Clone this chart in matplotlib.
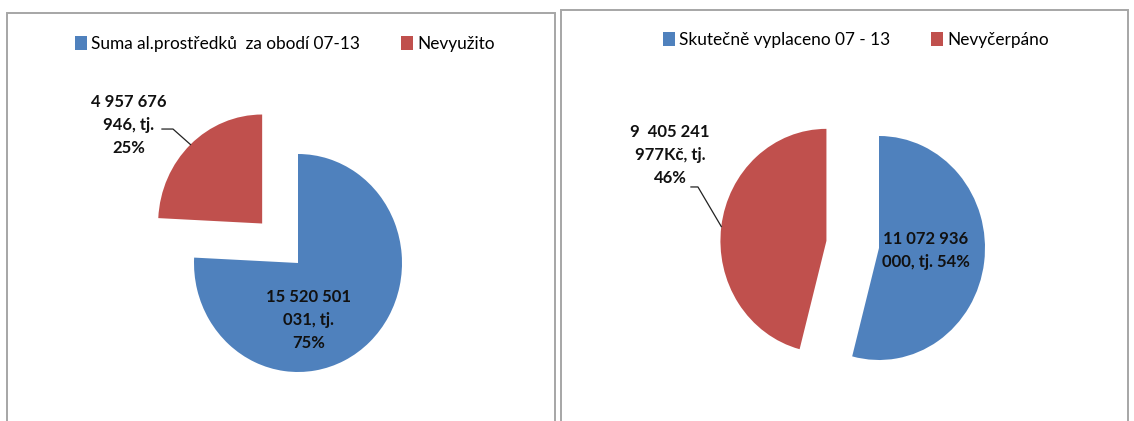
import matplotlib
matplotlib.use('Agg')
import matplotlib.pyplot as plt
import numpy as np
from matplotlib.patches import Rectangle

plt.rcParams['font.family'] = ['Lato', 'DejaVu Sans']

# data
left_labels = ['Suma al.prostředků  za obodí 07-13', 'Nevyužito']
left_values = [15520501031, 4957676946]
left_texts = ['15 520 501\n031, tj.\n75%', '4 957 676\n946, tj.\n25%']

right_labels = ['Skutečně vyplaceno 07 - 13', 'Nevyčerpáno']
right_values = [11072936000, 9405241977]
right_texts = ['11 072 936\n000, tj. 54%', '9  405 241\n977Kč, tj.\n46%']

colors = ['#4F81BD', '#C0504D']

W, H = 1134, 421
fig = plt.figure(figsize=(W / 100, H / 100), dpi=100)
fig.patch.set_facecolor('white')

# chart frames (pixel coords, y from top)
frame_col = '#a6a6a6'
fig.add_artist(Rectangle((7 / W, -0.05), (555 - 7) / W, 1.05 - 13 / H,
                         transform=fig.transFigure, fill=False,
                         edgecolor=frame_col, lw=1.4))
fig.add_artist(Rectangle((561 / W, -0.05), 0.5, 1.05 - 10 / H,
                         transform=fig.transFigure, fill=False,
                         edgecolor=frame_col, lw=1.4))

SPAN = 2.6


def pie_axes(cx, cy, rx, ry):
    ax = fig.add_axes([(cx - SPAN * rx) / W, (H - cy - SPAN * ry) / H,
                       2 * SPAN * rx / W, 2 * SPAN * ry / H])
    return ax


def draw_pie(ax, values):
    wedges, _ = ax.pie(values, colors=colors, startangle=90, counterclock=False,
                       explode=[0, 0.5], radius=1,
                       wedgeprops=dict(linewidth=0))
    ax.set_xlim(-SPAN, SPAN)
    ax.set_ylim(-SPAN, SPAN)
    ax.set_aspect('auto')
    ax.axis('off')
    return wedges


def arc_tip(w):
    mid = np.deg2rad((w.theta1 + w.theta2) / 2)
    return w.center[0] + w.r * np.cos(mid), w.center[1] + w.r * np.sin(mid)


lbl = dict(ha='center', va='center', fontsize=12, fontweight='bold',
           color='#111111', linespacing=1.55)
leg = dict(loc='center', ncol=2, frameon=False, fontsize=12.4, handlelength=0.7,
           handleheight=0.8, handletextpad=0.25, columnspacing=2.4)

# Left chart
axl = pie_axes(298, 263, 104, 109)
wl = draw_pie(axl, left_values)
axl.text(0.105, -0.523, left_texts[0], **lbl)
axl.text(-1.625, 1.266, left_texts[1], **lbl)
tx, ty = arc_tip(wl[1])
axl.plot([-1.308, -1.202, tx], [1.229, 1.229, ty], color='#222222', lw=0.9)

fig.legend(wl, left_labels, bbox_to_anchor=(285 / W, 1 - 44 / H), **leg)

# Right chart
axr = pie_axes(879, 248, 106, 112)
wr = draw_pie(axr, right_values)
axr.text(0.443, -0.022, right_texts[0], **lbl)
axr.text(-1.972, 0.83, right_texts[1], **lbl)
tx, ty = arc_tip(wr[1])
axr.plot([-1.774, -1.708, tx], [0.545, 0.545, ty], color='#222222', lw=0.9)

fig.legend(wr, right_labels, bbox_to_anchor=(856 / W, 1 - 40 / H), **leg)

fig.savefig('out.png', dpi=100)
